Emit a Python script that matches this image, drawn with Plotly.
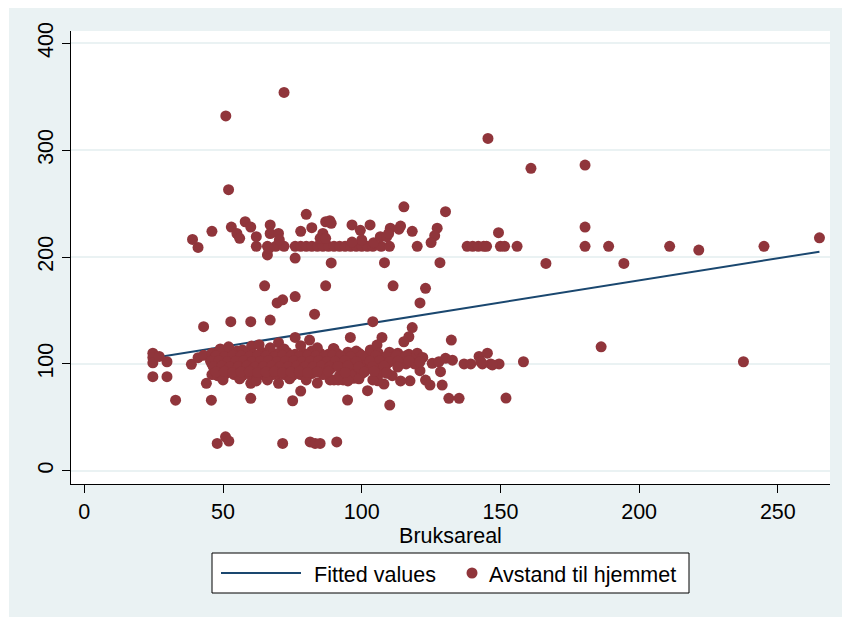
import plotly.graph_objects as go

# ---- Data: Bruksareal (x) vs Avstand til hjemmet (y) ----
# Sparse high values
areal_hoy = [72, 51, 145.5, 161, 180.5, 52]
avstand_hoy = [354, 332, 311, 283, 286, 263]

# Upper band around 210
areal_210 = [41, 62, 66, 69, 72, 76, 78, 80, 82, 84, 86, 88, 90, 92, 94, 96, 98, 100,
             102, 104, 107, 110, 120, 138, 140, 142, 144, 145, 150, 151.5, 156, 180.5,
             189, 211, 245]
avstand_210 = [209, 210, 210, 210, 210, 210, 210, 210, 210, 210, 210, 210, 210, 210,
               210, 210, 210, 210, 210, 210, 210, 210, 210, 210, 210, 210, 210, 210,
               210, 210, 210, 210, 210, 210, 210]

areal_ovre = [39, 46, 53, 55, 56, 58, 60, 62, 66, 66.5, 67, 67, 70, 70.3, 76, 78, 80, 82,
              86, 87, 85, 87, 88.5, 89, 89, 96.5, 99.5, 103, 100, 96.5, 104.3, 106.7,
              109, 110.3, 109.7, 113.4, 114, 115.2, 118.2, 127.2, 126.3, 125, 130.2,
              108.2, 128.2, 149.3, 166.4, 180.5, 194.5, 221.5, 265]
avstand_ovre = [216.5, 224, 228, 222, 217.5, 233, 228, 219, 202, 208, 230, 222, 222, 216,
                199, 224, 240, 227.5, 222, 233, 217.5, 217.5, 234, 231.5, 194.5, 230,
                225, 230, 216, 214, 213.4, 219, 219, 227, 222, 226, 229, 247, 224, 227,
                220, 213.5, 242.4, 194.7, 194.7, 222.8, 194, 228, 194, 206.5, 218]

# Middle values
areal_midt = [65, 87, 111.3, 123, 76, 121, 69.5, 71.5, 83, 43, 52.8, 60, 67, 104, 118.2,
              117, 115.2, 132.3, 107.3, 95.9, 76, 81.2, 70, 60.3, 89.8, 103.1, 105.5, 186.3]
avstand_midt = [173, 173, 173, 170.7, 163, 157, 157, 160, 146.5, 134.8, 139.5, 139.5,
                141, 139.5, 134, 125.4, 120.7, 122.3, 124.8, 124.8, 124.8, 122.3, 119.8,
                116.7, 114.5, 113, 117.6, 116]

# Lower band, scattered points
areal_nedre = [24.7, 24.7, 24.7, 29.8, 24.7, 29.8, 32.9, 38.6, 41, 43, 44, 45.8, 60,
               75.1, 78, 60, 70, 84, 83.8, 94.9, 102.1, 108, 110.1, 105.8, 109.1, 101.3,
               97.1, 88.6, 90, 91.5, 93.3, 117.4, 123, 124.6, 129, 131.4, 135.1, 152,
               121, 128.4, 125.4, 127.8, 130.2, 132.7, 136.9, 139.3, 142.3, 145.3,
               143.5, 146.5, 149.5, 142.9, 147.1, 158.3, 237.6, 112.8, 27]
avstand_nedre = [110, 106, 101, 102, 88, 88, 66, 99.6, 105.8, 108, 81.8, 66, 67.8, 65.5,
                 74.6, 81.8, 81.8, 82, 92.7, 66.2, 74.9, 81.1, 61.5, 84.2, 91.2, 94.9,
                 86.5, 85, 85, 85, 85, 84.2, 84.9, 80.2, 80.2, 67.8, 67.8, 68, 93.6,
                 92.7, 100.5, 102, 105.2, 103.5, 100, 100, 107, 110, 100, 100, 100, 102,
                 99, 102, 102, 100.5, 107]

# Lower band, dense core
areal_kjerne = [46, 48, 50, 52, 55, 58, 61, 64, 66, 68, 70, 73, 76, 79, 82, 85, 88, 91,
                95, 99, 103, 106, 110, 113, 117, 120,
                47, 49, 51, 54, 57, 60, 63, 65, 67, 69, 72, 75, 78, 81, 84, 87, 90, 93,
                97, 101, 104, 108, 111, 115, 118, 122,
                46, 48, 50, 53, 56, 59, 62, 64, 66, 68, 70, 72, 74, 77, 80, 83, 86, 89,
                92, 96, 100, 102, 105, 107, 109, 114, 116, 119,
                47, 49, 52, 55, 58, 61, 63, 65, 67, 69, 71, 74, 77, 80, 83, 86, 89, 93,
                98, 103, 107,
                46, 48, 51, 54, 57, 60, 62, 64, 66, 68, 70, 72, 75, 78, 82, 86, 92, 96,
                100, 106, 111,
                50, 56, 62, 66, 74, 80, 95, 99, 104, 114,
                49, 52, 57, 63, 67, 72, 78, 84, 90, 98]
avstand_kjerne = [110, 111, 109, 110, 112, 110, 109, 111, 110, 108, 110, 111, 109, 110,
                  112, 110, 109, 110, 111, 110, 109, 110, 111, 110, 109, 110,
                  105, 104, 106, 105, 104, 105, 106, 105, 104, 105, 106, 105, 104, 105,
                  106, 105, 104, 105, 106, 105, 104, 105, 106, 104, 105, 106,
                  100, 100, 100, 100, 100, 100, 100, 100, 100, 100, 100, 100, 100, 100,
                  100, 100, 100, 100, 100, 100, 100, 100, 100, 100, 100, 100, 100, 100,
                  95, 96, 94, 95, 96, 95, 94, 95, 96, 95, 94, 95, 96, 95, 94, 95, 96,
                  95, 94, 96, 95,
                  90, 89, 91, 90, 89, 90, 91, 90, 89, 90, 91, 90, 89, 90, 91, 90, 89,
                  90, 91, 90, 89,
                  85, 86, 84, 85, 86, 85, 84, 86, 85, 84,
                  114, 116, 113, 118, 115, 114, 117, 115, 114, 112]

# Lower band, in-between rows filling the core
areal_fyll = [47.5, 50.5, 53.5, 56.5, 59.5, 62.5, 65.5, 68.5, 71.5, 74.5, 77.5, 80.5,
              83.5, 86.5, 89.5, 92.5, 96, 100, 105, 109, 112.5, 116,
              45.5, 48.5, 51.5, 54.5, 57.5, 60.5, 63.5, 66.5, 69.5, 72.5, 75.5, 78.5,
              81.5, 84.5, 87.5, 90.5, 94, 98, 103, 106.5, 110, 113, 117, 121,
              46.5, 49.5, 52.5, 55.5, 58.5, 61.5, 64.5, 67.5, 70.5, 73.5, 76.5, 79.5,
              82.5, 85.5, 88.5, 91.5, 95, 99, 104, 108, 113,
              47.5, 50.5, 53.5, 56.5, 59.5, 62.5, 65.5, 68.5, 71.5, 74.5, 77.5, 80.5,
              84, 88, 94, 101, 104.5, 109]
avstand_fyll = [107.5, 107, 108, 107.5, 107, 108, 107.5, 107, 108, 107.5, 107, 108,
                107.5, 107, 108, 107.5, 107, 108, 107.5, 107, 108, 107.5,
                102.5, 103, 102, 102.5, 103, 102, 102.5, 103, 102, 102.5, 103, 102,
                102.5, 103, 102, 102.5, 103, 102, 102.5, 103, 102, 102.5, 103, 102,
                97.5, 98, 97, 97.5, 98, 97, 97.5, 98, 97, 97.5, 98, 97,
                97.5, 98, 97, 97.5, 98, 97, 97.5, 98, 97,
                92.5, 93, 92, 92.5, 93, 92, 92.5, 93, 92, 92.5, 93, 92,
                92.5, 93, 92, 92.5, 93, 92]

# Lowest values
areal_lav = [47.9, 50.9, 52.1, 71.5, 81.4, 83.2, 85, 91]
avstand_lav = [25.6, 31.8, 27.8, 25.6, 27, 25.6, 25.6, 27]

# Fitted regression line (end points)
fit_areal = [24.7, 265]
fit_avstand = [105.5, 205]

x_ticks = [0, 50, 100, 150, 200, 250]
y_ticks = [0, 100, 200, 300, 400]

areal = (areal_hoy + areal_210 + areal_ovre + areal_midt + areal_nedre + areal_kjerne
         + areal_fyll + areal_lav)
avstand = (avstand_hoy + avstand_210 + avstand_ovre + avstand_midt + avstand_nedre
           + avstand_kjerne + avstand_fyll + avstand_lav)

# ---- Styling ----
MAROON = "#90353B"
NAVY = "#1A476F"
BG = "#EAF2F3"
FONT = "Liberation Sans, Arial, sans-serif"
FS = 21.5

W, H = 842, 617
L, R, T, B = 71, 830, 31, 484  # plot area in pixels


def fx(px):
    return (px - L) / (R - L)


def fy(py):
    return (B - py) / (B - T)


fig = go.Figure()
fig.add_trace(go.Scatter(x=fit_areal, y=fit_avstand, mode="lines",
                         line=dict(color=NAVY, width=2), name="Fitted values",
                         showlegend=False, hoverinfo="skip"))
fig.add_trace(go.Scatter(x=areal, y=avstand, mode="markers",
                         marker=dict(color=MAROON, size=11, line=dict(width=0)),
                         name="Avstand til hjemmet", showlegend=False))

shapes = [
    # white outer edge at top and left
    dict(type="rect", xref="paper", yref="paper", x0=fx(0), x1=fx(W), y0=fy(8), y1=fy(0),
         fillcolor="white", line=dict(width=0), layer="below"),
    dict(type="rect", xref="paper", yref="paper", x0=fx(0), x1=fx(9), y0=fy(H), y1=fy(0),
         fillcolor="white", line=dict(width=0), layer="below"),
    # legend box
    dict(type="rect", xref="paper", yref="paper", x0=fx(212), x1=fx(689), y0=fy(593),
         y1=fy(553), fillcolor="white", line=dict(color="black", width=1)),
    dict(type="line", xref="paper", yref="paper", x0=fx(221), x1=fx(301), y0=fy(573),
         y1=fy(573), line=dict(color=NAVY, width=2)),
    dict(type="circle", xref="paper", yref="paper", x0=fx(472 - 5.5), x1=fx(472 + 5.5),
         y0=fy(573 + 5.5), y1=fy(573 - 5.5), fillcolor=MAROON, line=dict(width=0)),
]

annotations = [
    dict(text="Fitted values", xref="paper", yref="paper", x=fx(312), y=fy(575),
         xanchor="left", yanchor="middle", showarrow=False,
         font=dict(family=FONT, size=FS, color="black")),
    dict(text="Avstand til hjemmet", xref="paper", yref="paper", x=fx(487), y=fy(575),
         xanchor="left", yanchor="middle", showarrow=False,
         font=dict(family=FONT, size=FS, color="black")),
]

fig.update_layout(
    width=W, height=H,
    margin=dict(l=L, r=W - R, t=T, b=H - B, pad=0),
    paper_bgcolor=BG, plot_bgcolor="white",
    font=dict(family=FONT, size=FS, color="black"),
    shapes=shapes, annotations=annotations,
    xaxis=dict(range=[-4.8, 268.8], tickvals=x_ticks, ticks="outside", ticklen=8,
               tickcolor="black", showline=True, linecolor="black", linewidth=1,
               showgrid=False, zeroline=False,
               tickfont=dict(family=FONT, size=FS, color="black"),
               title=dict(text="Bruksareal", standoff=0,
                          font=dict(family=FONT, size=FS, color="black"))),
    yaxis=dict(range=[-12.4, 411.5], tickvals=y_ticks, tickangle=-90, ticks="outside",
               ticklen=8, tickcolor="black", showline=True, linecolor="black",
               linewidth=1, showgrid=True, gridcolor=BG, gridwidth=1.5, zeroline=False,
               tickfont=dict(family=FONT, size=FS, color="black")),
)

fig.write_html("out.html")
